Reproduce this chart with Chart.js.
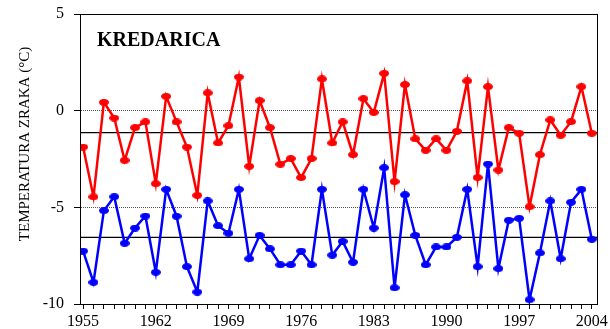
<!DOCTYPE html>
<html>
<head>
<meta charset="utf-8">
<script src="https://cdn.jsdelivr.net/npm/chart.js@4/dist/chart.umd.min.js"></script>
<style>
  html, body { margin: 0; padding: 0; background: #fff; }
  #wrap { width: 610px; height: 329px; }
</style>
</head>
<body>
<div id="wrap"><canvas id="c" width="610" height="329"></canvas></div>
<script>
// Annual air temperature at Kredarica, 1955–2004 (°C)
const firstYear = 1955;
const lastYear = 2004;
const years = Array.from({ length: lastYear - firstYear + 1 }, (_, i) => firstYear + i);

// upper series (red)
const redValues = [
  -1.88, -4.46, 0.43, -0.38, -2.57, -0.88, -0.58, -3.78, 0.74, -0.58,
  -1.88, -4.38, 0.92, -1.67, -0.78, 1.74, -2.88, 0.52, -0.88, -2.77,
  -2.48, -3.46, -2.48, 1.64, -1.67, -0.58, -2.28, 0.62, -0.09, 1.93,
  -3.67, 1.35, -1.46, -2.05, -1.46, -2.05, -1.07, 1.54, -3.46, 1.24,
  -3.07, -0.88, -1.17, -4.97, -2.28, -0.48, -1.27, -0.57, 1.24, -1.17
];

// lower series (blue)
const blueValues = [
  -7.26, -8.88, -5.17, -4.45, -6.86, -6.07, -5.45, -8.36, -4.07, -5.46,
  -8.07, -9.38, -4.67, -5.95, -6.34, -4.07, -7.66, -6.45, -7.15, -7.97,
  -7.97, -7.26, -7.97, -4.07, -7.47, -6.76, -7.84, -4.07, -6.07, -2.95,
  -9.16, -4.35, -6.45, -7.97, -7.05, -7.05, -6.55, -4.07, -8.07, -2.76,
  -8.17, -5.67, -5.57, -9.78, -7.36, -4.67, -7.66, -4.74, -4.07, -6.65
];

// long-term averages of the two series
const meanValues = [-1.14, -6.55];

// axis ticks
const xLabelYears = [1955, 1962, 1969, 1976, 1983, 1990, 1997, 2004];
const yTickValues = [5, 0, -5, -10];

const X_MIN = 1954.7, X_MAX = 2004.5;
const serif = '"Liberation Serif", "Times New Roman", serif';

// flattened round marker
function ellipseMarker(color) {
  const cv = document.createElement('canvas');
  cv.width = 10; cv.height = 7;
  const g = cv.getContext('2d');
  g.fillStyle = color;
  g.beginPath();
  g.ellipse(5, 3.5, 5, 3.5, 0, 0, Math.PI * 2);
  g.fill();
  return cv;
}

const toPoints = vals => vals.map((v, i) => ({ x: years[i], y: v }));

const meanDatasets = meanValues.map(m => ({
  data: [{ x: X_MIN, y: m }, { x: X_MAX, y: m }],
  borderColor: '#000',
  borderWidth: 1.2,
  pointRadius: 0,
  order: 3
}));

const framePlugin = {
  id: 'frameAndLabels',
  afterDraw(chart) {
    const { ctx, chartArea: a } = chart;
    ctx.save();
    ctx.strokeStyle = '#000';
    ctx.lineWidth = 1;
    ctx.strokeRect(Math.round(a.left) + 0.5, Math.round(a.top) + 0.5,
                   Math.round(a.right - a.left), Math.round(a.bottom - a.top));
    // station name
    ctx.fillStyle = '#000';
    ctx.font = 'bold 20px ' + serif;
    ctx.textBaseline = 'alphabetic';
    ctx.textAlign = 'left';
    ctx.fillText('KREDARICA', 97, 46);
    // axis caption
    ctx.translate(25, 144);
    ctx.rotate(-Math.PI / 2);
    ctx.font = '15px ' + serif;
    ctx.textAlign = 'center';
    ctx.textBaseline = 'middle';
    ctx.fillText('TEMPERATURA ZRAKA (°C)', 0, 0);
    ctx.restore();
  }
};

new Chart(document.getElementById('c'), {
  type: 'line',
  data: {
    datasets: [
      {
        data: toPoints(redValues),
        borderColor: '#ff0000',
        borderWidth: 2.5,
        pointStyle: ellipseMarker('#ff0000'),
        pointRadius: 5,
        tension: 0,
        order: 1
      },
      {
        data: toPoints(blueValues),
        borderColor: '#0000ff',
        borderWidth: 2.5,
        pointStyle: ellipseMarker('#0000ff'),
        pointRadius: 5,
        tension: 0,
        order: 1
      },
      ...meanDatasets
    ]
  },
  options: {
    responsive: false,
    animation: false,
    layout: { padding: { top: 14, right: 13, left: 0, bottom: 0 } },
    plugins: { legend: { display: false }, tooltip: { enabled: false } },
    scales: {
      x: {
        type: 'linear',
        min: X_MIN,
        max: X_MAX,
        afterBuildTicks(scale) { scale.ticks = years.map(v => ({ value: v })); },
        afterFit(scale) {
          scale.height = 25;
          scale.paddingLeft = 0; scale.paddingRight = 0;
        },
        ticks: {
          autoSkip: false,
          maxRotation: 0,
          padding: 3,
          color: '#000',
          font: { family: serif, size: 16 },
          callback: v => (xLabelYears.includes(v) ? String(v) : '')
        },
        grid: {
          drawOnChartArea: false,
          drawTicks: true,
          tickLength: 5,
          tickColor: '#000',
          color: '#000'
        },
        border: { display: true, color: '#000', width: 1 }
      },
      y: {
        min: -10,
        max: 5,
        afterBuildTicks(scale) { scale.ticks = yTickValues.map(v => ({ value: v })); },
        afterFit(scale) {
          scale.width = 80;
          scale.paddingTop = 0; scale.paddingBottom = 0;
        },
        ticks: {
          padding: 10,
          color: '#000',
          font: { family: serif, size: 16 }
        },
        grid: {
          drawOnChartArea: true,
          drawTicks: true,
          tickLength: 6,
          tickColor: '#000',
          color: '#555',
          lineWidth: 1
        },
        border: { display: true, color: '#000', width: 1, dash: [1, 1] }
      }
    }
  },
  plugins: [framePlugin]
});
</script>
</body>
</html>
